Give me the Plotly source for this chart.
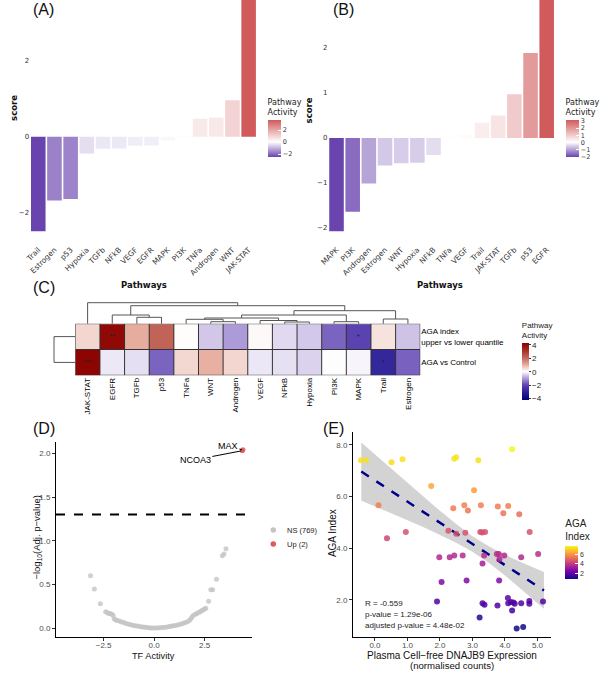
import plotly.graph_objects as go

W, H = 600, 673
def fx(p): return p / W
def fy(p): return 1 - p / H

# ---------------- data ----------------
a_paths = ["Trail", "Estrogen", "p53", "Hypoxia", "TGFb", "NFkB", "VEGF", "EGFR",
           "MAPK", "PI3K", "TNFa", "Androgen", "WNT", "JAK-STAT"]
a_scores = [-2.49, -1.68, -1.64, -0.44, -0.32, -0.31, -0.24, -0.23,
            -0.10, -0.02, 0.47, 0.50, 0.96, 3.62]

b_paths = ["MAPK", "PI3K", "Androgen", "Estrogen", "WNT", "Hypoxia", "NFkB", "TNFa",
           "VEGF", "Trail", "JAK-STAT", "TGFb", "p53", "EGFR"]
b_scores = [-2.07, -1.64, -1.01, -0.61, -0.56, -0.55, -0.38, 0.03,
            0.07, 0.34, 0.50, 0.97, 1.89, 3.10]

hm_cols = ["JAK-STAT", "EGFR", "TGFb", "p53", "TNFa", "WNT", "Androgen", "VEGF",
           "NFkB", "Hypoxia", "PI3K", "MAPK", "Trail", "Estrogen"]
hm_rows = ["AGA index<br>upper vs lower quantile", "AGA vs Control"]
hm_vals = [[0.50, 4.00, 1.00, 2.10, 0.03, -0.56, -1.01, 0.07, -0.38, -0.55, -1.64, -2.07, 0.34, -0.61],
           [4.10, -0.23, -0.32, -1.64, 0.47, 0.96, 0.50, -0.24, -0.31, -0.44, -0.02, -0.10, -2.80, -1.68]]
hm_stars = [[" ", "**", " ", " ", " ", " ", " ", " ", " ", " ", " ", "*", " ", " "],
            ["***", " ", " ", " ", " ", " ", " ", " ", " ", " ", " ", " ", "*", " "]]
# hierarchical clustering merges: (child, child, height); ints refer to earlier merges
col_merges = [("WNT", "Androgen", 2.0), ("NFkB", "Hypoxia", 1.7), ("PI3K", "MAPK", 2.0),
              ("TNFa", 0, 4.4), ("VEGF", 1, 3.2), ("Trail", "Estrogen", 4.7),
              ("TGFb", "p53", 6.4), ("EGFR", 6, 8.7), (3, 4, 5.7), (8, 2, 8.7),
              (9, 5, 13.0), (7, 10, 18.0), ("JAK-STAT", 11, 21.0)]
row_merges = [(0, 1, 21.6)]

tf_x = [-3.15, -2.96, -2.66, -2.40, -2.33, -2.25, -2.18, -2.10, -2.03,
        -1.98, -1.92, -1.85, -1.75, -1.65, -1.55, -1.45, -1.35, -1.25, -1.15, -1.05,
        -0.95, -0.85, -0.75, -0.65, -0.55, -0.45, -0.35, -0.25, -0.15, -0.05,
        0.05, 0.15, 0.25, 0.35, 0.45, 0.55, 0.65, 0.75, 0.85, 0.95, 1.05, 1.15,
        1.25, 1.35, 1.45, 1.55, 1.65, 1.75, 1.82, 1.88, 1.95, 2.05, 2.12, 2.20,
        2.28, 2.35, 2.42, 2.50, 2.56, 2.70, 2.81, 2.90, 3.09, 3.38, 3.46, 3.56]
tf_p = [0.60, 0.45, 0.28, 0.19, 0.18, 0.17, 0.17, 0.16, 0.15,
        0.11, 0.10, 0.09, 0.085, 0.075, 0.068, 0.060, 0.052, 0.046, 0.040, 0.035,
        0.030, 0.026, 0.022, 0.018, 0.014, 0.011, 0.008, 0.006, 0.004, 0.002,
        0.002, 0.004, 0.006, 0.008, 0.010, 0.013, 0.016, 0.020, 0.024, 0.028, 0.033, 0.038,
        0.043, 0.050, 0.057, 0.065, 0.075, 0.090, 0.11, 0.13, 0.15, 0.16, 0.17, 0.18,
        0.19, 0.20, 0.21, 0.22, 0.23, 0.31, 0.44, 0.44, 0.56, 0.83, 0.85, 0.91]
up_names = ["MAX", "NCOA3"]
up_x = [4.40, 4.37]
up_p = [2.04, 2.03]
p_cut = 1.301
legend_labels = ["NS (769)", "Up (2)"]

e_x = [-0.43, -0.27, 0.51, 0.85, 2.44, 2.50, 3.18, 4.22, 1.73, 3.05, 0.11, 2.41, 2.75, 2.86,
       3.26, 3.78, 4.10, 3.95, 4.44, 0.37, 0.95, 2.26, 2.50, 2.78, 3.24, 3.30, 3.39, 4.76,
       1.98, 2.30, 2.44, 2.70, 3.36, 3.75, 3.81, 3.83, 3.98, 4.50, 5.02, 3.31, 2.05, 2.82,
       3.82, 1.91, 3.31, 3.37, 3.77, 4.09, 4.10, 4.18, 4.26, 4.30, 4.22, 4.50, 4.75, 4.75,
       5.17, 3.22, 4.36, 4.56]
e_y = [7.41, 7.41, 7.33, 7.45, 7.47, 7.52, 7.41, 7.83, 6.41, 6.25, 5.67, 5.55, 5.67, 5.46,
       5.67, 5.62, 5.64, 5.36, 5.32, 4.39, 4.63, 4.68, 4.56, 4.60, 4.63, 4.61, 4.63, 4.63,
       3.65, 3.65, 3.72, 3.72, 3.72, 3.78, 3.78, 3.58, 3.72, 3.65, 3.78, 3.41, 2.70, 2.75,
       2.75, 1.94, 1.87, 1.82, 1.79, 2.08, 1.87, 1.92, 1.90, 1.85, 1.59, 1.87, 1.96, 1.85,
       1.94, 1.32, 0.90, 0.95]
fit_x = [-0.42, 0.5, 1.5, 2.0, 2.5, 3.0, 3.5, 4.0, 4.5, 5.2]
fit_y = [6.97, 6.22, 5.40, 4.99, 4.58, 4.17, 3.76, 3.35, 2.94, 2.37]
band_hi = [8.10, 7.08, 5.98, 5.45, 4.94, 4.47, 4.08, 3.75, 3.46, 3.08]
band_lo = [5.84, 5.36, 4.82, 4.53, 4.22, 3.87, 3.44, 2.95, 2.42, 1.66]
stats_text = ["R = -0.559", "p-value = 1.29e-06", "adjusted p-value = 4.48e-02"]

# ---------------- styles ----------------
DJ = "DejaVu Sans"
LS = "Liberation Sans"
LOW, HIGH = "#6A44AE", "#D15A5A"

def div_scale(vals):
    mn, mx = min(vals), max(vals)
    f0 = -mn / (mx - mn)
    return [[0, LOW], [f0, "#FFFFFF"], [1, HIGH]], mn, mx

fig = go.Figure()

# ---------------- Panel A & B bars ----------------
for idx, (paths, vals, cbx, tv) in enumerate([
        (a_paths, a_scores, 263, [-2, 0, 2]),
        (b_paths, b_scores, 566, [-2, -1, 0, 1, 2, 3])]):
    cs, mn, mx = div_scale(vals)
    sfx = "" if idx == 0 else "2"
    fig.add_trace(go.Bar(
        x=paths, y=vals, xaxis="x" + sfx, yaxis="y" + sfx,
        marker=dict(color=vals, colorscale=cs, cmin=mn, cmax=mx, line=dict(width=0),
                    showscale=True,
                    colorbar=dict(x=fx(cbx), xanchor="left", y=fy(126.5), yanchor="middle",
                                  len=61, lenmode="pixels", thickness=13, thicknessmode="pixels",
                                  xpad=0, ypad=0, outlinewidth=0,
                                  title=dict(text="Pathway<br>Activity", side="top",
                                             font=dict(family=DJ, size=8, color="#222")),
                                  tickvals=tv, ticks="inside", tickcolor="white", ticklen=3,
                                  tickfont=dict(family=DJ, size=6.5, color="#333"))),
        width=0.9, showlegend=False, hoverinfo="skip"))

bar_x = dict(type="category", tickangle=-45, showgrid=False, showline=False, zeroline=False,
             ticks="", tickfont=dict(family=DJ, size=7.5, color="#333"))
bar_y = dict(showgrid=False, showline=False, zeroline=False, ticks="",
             tickfont=dict(family=DJ, size=7, color="#333"))

# ---------------- Panel C heatmap ----------------
hm_min, hm_max = -4.2, 4.2
hm_stops = [(-4.2, "#00007A"), (-3.0, "#2A1F95"), (-2.0, "#5E45B3"), (-1.0, "#AE9BD8"),
            (0.0, "#FFFFFF"), (1.0, "#E6AD9F"), (2.0, "#C4685B"), (3.0, "#A83428"), (4.2, "#8B0000")]
hm_cs = [[(v - hm_min) / (hm_max - hm_min), c] for v, c in hm_stops]
ncol, nrow = len(hm_cols), len(hm_rows)
fig.add_trace(go.Heatmap(
    z=hm_vals, x=list(range(ncol)), y=list(range(nrow)), text=hm_stars,
    texttemplate="%{text}", textfont=dict(family=LS, size=7, color="#222"),
    colorscale=hm_cs, zmin=hm_min, zmax=hm_max, xaxis="x3", yaxis="y3",
    hoverinfo="skip",
    colorbar=dict(x=fx(521.5), xanchor="left", y=fy(359.5), yanchor="middle",
                  len=81, lenmode="pixels", thickness=6.5, thicknessmode="pixels",
                  xpad=0, ypad=0, outlinewidth=0,
                  title=dict(text="Pathway<br>Activity", side="top",
                             font=dict(family=LS, size=8, color="#222")),
                  tickvals=[-4, -2, 0, 2, 4], ticktext=["−4", "−2", "0", "2", "4"],
                  ticks="outside", ticklen=2, tickcolor="#333",
                  tickfont=dict(family=LS, size=8, color="#222"))))

shapes = []
for i in range(ncol + 1):
    shapes.append(dict(type="line", xref="x3", yref="y3", x0=i - 0.5, x1=i - 0.5,
                       y0=-0.5, y1=nrow - 0.5, line=dict(color="#333", width=1)))
for j in range(nrow + 1):
    shapes.append(dict(type="line", xref="x3", yref="y3", x0=-0.5, x1=ncol - 0.5,
                       y0=j - 0.5, y1=j - 0.5, line=dict(color="#333", width=1)))

def dendro(merges, pos):
    info = []
    xs, ys = [], []
    for a, b, h in merges:
        pts = []
        for c in (a, b):
            if isinstance(c, int):
                pts.append(info[c])
            else:
                pts.append((pos[c], 0.0))
        (x1, h1), (x2, h2) = pts
        xs += [x1, x1, x2, x2, None]
        ys += [h1, h, h, h2, None]
        info.append(((x1 + x2) / 2, h))
    return xs, ys

col_pos = {n: i for i, n in enumerate(hm_cols)}
dx, dy = dendro(col_merges, col_pos)
fig.add_trace(go.Scatter(x=dx, y=dy, mode="lines", xaxis="x4", yaxis="y4",
                         line=dict(color="#555", width=1), hoverinfo="skip", showlegend=False))

rx, ry = [], []
for a, b, h in row_merges:
    rx += [0, h, h, 0, None]
    ry += [a, a, b, b, None]
fig.add_trace(go.Scatter(x=rx, y=ry, mode="lines", xaxis="x5", yaxis="y5",
                         line=dict(color="#555", width=1), hoverinfo="skip", showlegend=False))

# ---------------- Panel D volcano ----------------
fig.add_trace(go.Scatter(x=tf_x, y=tf_p, mode="markers", xaxis="x6", yaxis="y6",
                         marker=dict(color="#C4C4C4", size=5, opacity=0.8, line=dict(width=0)),
                         hoverinfo="skip", showlegend=False))
fig.add_trace(go.Scatter(x=up_x, y=up_p, mode="markers", xaxis="x6", yaxis="y6",
                         marker=dict(color="#E05A5A", size=5, opacity=0.85, line=dict(width=0)),
                         hoverinfo="skip", showlegend=False))
shapes.append(dict(type="line", xref="x6 domain", yref="y6", x0=0, x1=1, y0=p_cut, y1=p_cut,
                   line=dict(color="black", width=1.8, dash="dash")))
# legend for D
fig.add_trace(go.Scatter(x=[4.3, 4.3], y=[0, 1], mode="markers", xaxis="x8", yaxis="y8",
                         marker=dict(color=["#C4C4C4", "#E05A5A"], size=5.5),
                         hoverinfo="skip", showlegend=False))

# ---------------- Panel E scatter ----------------
fig.add_trace(go.Scatter(x=fit_x + fit_x[::-1], y=band_hi + band_lo[::-1], fill="toself",
                         mode="lines", line=dict(width=0), fillcolor="rgba(200,200,200,0.8)",
                         xaxis="x7", yaxis="y7", hoverinfo="skip", showlegend=False))
fig.add_trace(go.Scatter(x=fit_x, y=fit_y, mode="lines", xaxis="x7", yaxis="y7",
                         line=dict(color="#00008B", width=2.5, dash="dash"),
                         hoverinfo="skip", showlegend=False))
fig.add_trace(go.Scatter(
    x=e_x, y=e_y, mode="markers", xaxis="x7", yaxis="y7", hoverinfo="skip", showlegend=False,
    marker=dict(color=e_y, colorscale="Plasma", cmin=min(e_y), cmax=max(e_y), size=6,
                opacity=0.85, line=dict(width=0), showscale=True,
                colorbar=dict(x=fx(565.7), xanchor="left", y=fy(547.5), yanchor="middle",
                              len=61.6, lenmode="pixels", thickness=12.6, thicknessmode="pixels",
                              xpad=0, ypad=0, outlinewidth=0,
                              title=dict(text="AGA<br>Index", side="top",
                                         font=dict(family=LS, size=10, color="#222")),
                              tickvals=[2, 4, 6], ticks="inside", tickcolor="white", ticklen=3,
                              tickfont=dict(family=LS, size=7, color="#333")))))

sci_x = dict(showgrid=False, zeroline=False, showline=True, linecolor="black", linewidth=1,
             ticks="outside", ticklen=3, tickcolor="#333", tickformat=".1f",
             tickfont=dict(family=LS, size=8, color="#4D4D4D"))

# ---------------- annotations ----------------
anns = []
def ann(text, x, y, size, family=LS, xa="center", ya="middle", angle=0, bold=False, color="#111"):
    if bold:
        text = "<b>" + text + "</b>"
    anns.append(dict(text=text, x=fx(x), y=fy(y), xref="paper", yref="paper", showarrow=False,
                     xanchor=xa, yanchor=ya, textangle=angle,
                     font=dict(family=family, size=size, color=color)))

ann("(A)", 22, 10, 16, xa="left")
ann("(B)", 327, 10, 16, xa="left")
ann("(C)", 22, 287, 16, xa="left")
ann("(D)", 22, 428.5, 16, xa="left")
ann("(E)", 317, 428.5, 16, xa="left")
ann("score", 5, 108, 8.5, family=DJ, angle=-90, bold=True)
ann("score", 305, 110, 8.5, family=DJ, angle=-90, bold=True)
ann("Pathways", 137, 285, 8.5, family=DJ, bold=True)
ann("Pathways", 438, 285, 8.5, family=DJ, bold=True)
ann("TF Activity", 147, 655.5, 9.2)
ann("−log<sub>10</sub>(Adj. p−value)", 28, 537, 9.5, angle=-90)
ann("AGA Index", 328, 533, 10, angle=-90)
ann("Plasma Cell−free DNAJB9 Expression", 450, 655.5, 10)
ann("(normalised counts)", 450, 665.8, 9.6)
for k, t in enumerate(stats_text):
    ann(t, 359.3, [603.3, 614.3, 625.7][k], 8, xa="left", color="#222")
for k, t in enumerate(legend_labels):
    ann(t, 280.7, [530, 544.3][k], 7.5, xa="left", color="#222")

# volcano labels
offsets = {"MAX": (-15, -3.5), "NCOA3": (-47, 9)}
for n, x, y in zip(up_names, up_x, up_p):
    ax_, ay_ = offsets[n]
    anns.append(dict(text=n, x=x, y=y, xref="x6", yref="y6", ax=ax_, ay=ay_, showarrow=True,
                     arrowhead=0, arrowwidth=1, arrowcolor="black", standoff=1,
                     font=dict(family=LS, size=9, color="black")))

# ---------------- layout ----------------
fig.update_layout(
    width=W, height=H, margin=dict(l=0, r=0, t=0, b=0),
    paper_bgcolor="white", plot_bgcolor="white", showlegend=False,
    xaxis=dict(domain=[fx(21.5), fx(251.5)], anchor="y", **bar_x),
    yaxis=dict(domain=[fy(243), 1], anchor="x", range=[-(243 - 136.7) / 38, 136.7 / 38],
               tickvals=[-2, 0, 2], **bar_y),
    xaxis2=dict(domain=[fx(324.3), fx(554.1)], anchor="y2", **bar_x),
    yaxis2=dict(domain=[fy(243), 1], anchor="x2", range=[-(243 - 138) / 45, 138 / 45],
                tickvals=[-2, -1, 0, 1, 2, 3], **bar_y),
    xaxis3=dict(domain=[fx(67.3), fx(417.5)], anchor="y3", range=[-0.5, ncol - 0.5],
                tickvals=list(range(ncol)), ticktext=hm_cols, tickangle=-90, ticks="",
                showgrid=False, zeroline=False, showline=False,
                tickfont=dict(family=LS, size=8, color="black")),
    yaxis3=dict(domain=[fy(375.3), fy(323.7)], anchor="x3", range=[nrow - 0.5, -0.5],
                side="right", tickvals=list(range(nrow)), ticktext=hm_rows, ticks="",
                showgrid=False, zeroline=False, showline=False,
                tickfont=dict(family=LS, size=8, color="black")),
    xaxis4=dict(domain=[fx(67.3), fx(417.5)], anchor="y4", range=[-0.5, ncol - 0.5], visible=False),
    yaxis4=dict(domain=[fy(324.2), fy(301.7)], anchor="x4", range=[-0.5, 22], visible=False),
    xaxis5=dict(domain=[fx(44.7), fx(67.3)], anchor="y5", range=[22.6, 0], visible=False),
    yaxis5=dict(domain=[fy(375.3), fy(323.7)], anchor="x5", range=[nrow - 0.5, -0.5], visible=False),
    xaxis6=dict(domain=[fx(47.7), fx(246.7)], anchor="y6", range=[-4.86, 4.85],
                tickvals=[-2.5, 0, 2.5], ticklabelstandoff=-3, **sci_x),
    yaxis6=dict(domain=[fy(637.3), fy(441.7)], anchor="x6", range=[-0.103, 2.133],
                tickvals=[0, 0.5, 1, 1.5, 2], **sci_x),
    xaxis7=dict(domain=[fx(349.3), fx(550.7)], anchor="y7", range=[-0.673, 5.43],
                tickvals=[0, 1, 2, 3, 4, 5], ticklabelstandoff=-3, **sci_x),
    yaxis7=dict(domain=[fy(637.3), fy(432.3)], anchor="x7", range=[0.556, 8.49],
                tickvals=[2, 4, 6, 8], **sci_x),
    xaxis8=dict(domain=[fx(264), fx(324)], anchor="y8", range=[0, 60], visible=False),
    yaxis8=dict(domain=[fy(551), fy(523)], anchor="x8", range=[1.5, -0.5], visible=False),
    shapes=shapes, annotations=anns,
)

fig.write_html("out.html")
